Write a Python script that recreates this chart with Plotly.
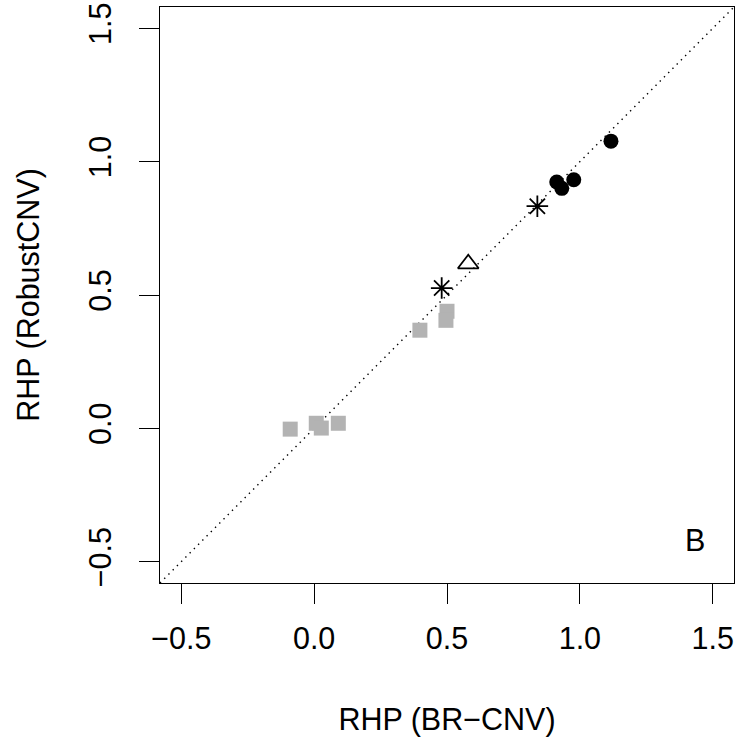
import plotly.graph_objects as go

# Data
sq_x = [-0.090, 0.008, 0.027, 0.091, 0.398, 0.500, 0.496]
sq_y = [-0.003, 0.019, 0.001, 0.019, 0.368, 0.439, 0.405]

circ_x = [1.117, 0.913, 0.932, 0.977]
circ_y = [1.077, 0.924, 0.900, 0.932]

star_x = [0.840, 0.480]
star_y = [0.833, 0.526]

tri_x = [0.580]
tri_y = [0.617]

tick_vals = [-0.5, 0.0, 0.5, 1.0, 1.5]
tick_text = ["\u22120.5", "0.0", "0.5", "1.0", "1.5"]
axis_range = [-0.58, 1.58]

FONT = "Liberation Sans, Arial, Helvetica, sans-serif"
FS = 30.5

fig = go.Figure()

# identity line (abline 0,1, dotted)
fig.add_trace(go.Scatter(x=axis_range, y=axis_range, mode="lines",
                         line=dict(color="black", width=1.4, dash="1.4px,4.6px"),
                         hoverinfo="skip", showlegend=False))

fig.add_trace(go.Scatter(x=sq_x, y=sq_y, mode="markers",
                         marker=dict(symbol="square", size=15, color="#B3B3B3", line=dict(width=0)),
                         showlegend=False))
fig.add_trace(go.Scatter(x=circ_x, y=circ_y, mode="markers",
                         marker=dict(symbol="circle", size=15, color="black", line=dict(width=0)),
                         showlegend=False))
fig.add_trace(go.Scatter(x=star_x, y=star_y, mode="markers",
                         marker=dict(symbol="asterisk-open", size=18, color="black",
                                     line=dict(width=1.8, color="black")),
                         showlegend=False))
fig.add_trace(go.Scatter(x=tri_x, y=tri_y, mode="markers",
                         marker=dict(symbol="triangle-up-open", size=18, color="black",
                                     line=dict(width=1.8, color="black")),
                         showlegend=False))

fig.add_annotation(x=1.432, y=-0.418, text="B", showarrow=False,
                   font=dict(family=FONT, size=FS, color="black"),
                   xanchor="center", yanchor="middle")

axis_common = dict(range=axis_range, tickmode="array", tickvals=tick_vals, ticktext=tick_text,
                   showgrid=False, zeroline=False, showline=True, linecolor="black", linewidth=1.3,
                   mirror=True, ticks="outside", ticklen=20, tickwidth=1.3, tickcolor="black",
                   tickfont=dict(family=FONT, size=FS, color="black"), automargin=False)

fig.update_xaxes(**axis_common, ticklabelstandoff=8,
                 title=dict(text="RHP (BR\u2212CNV)", font=dict(family=FONT, size=FS, color="black"),
                            standoff=56))
fig.update_yaxes(**axis_common, tickangle=-90, ticklabelstandoff=16,
                 title=dict(text="RHP (RobustCNV)", font=dict(family=FONT, size=FS, color="black"),
                            standoff=33))

fig.update_layout(width=741, height=737,
                  margin=dict(l=159.5, r=6.5, t=7, b=154, pad=0),
                  plot_bgcolor="white", paper_bgcolor="white",
                  font=dict(family=FONT, size=FS, color="black"))

fig.write_html("out.html")
